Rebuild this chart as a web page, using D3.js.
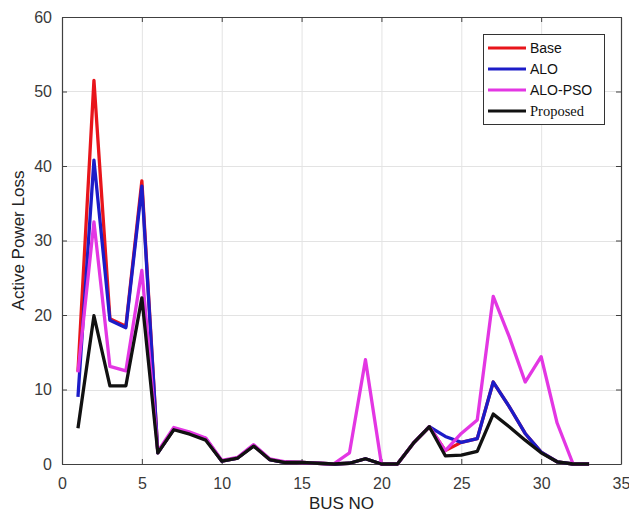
<!DOCTYPE html>
<html>
<head>
<meta charset="utf-8">
<script src="https://cdn.jsdelivr.net/npm/d3@7"></script>
<style>
  html, body { margin: 0; padding: 0; background: #fff; }
  svg { display: block; }
</style>
</head>
<body>
<svg id="chart" width="629" height="519"></svg>
<script>
// Active power loss per bus for each method
const buses = d3.range(1, 34);
const base     = [12.4, 51.5, 19.5, 18.5, 38.0, 1.5, 4.7, 4.1, 3.4, 0.4, 0.8, 2.5, 0.6, 0.2, 0.2, 0.1, 0.0, 0.1, 0.7, 0.0, 0.0, 2.8, 5.0, 1.8, 2.9, 3.4, 11.0, 7.7, 4.1, 1.6, 0.3, 0.0, 0.0];
const alo      = [9.0, 40.8, 19.3, 18.3, 37.3, 1.5, 4.7, 4.1, 3.4, 0.4, 0.8, 2.5, 0.6, 0.2, 0.2, 0.1, 0.0, 0.1, 0.7, 0.0, 0.0, 2.8, 5.0, 3.7, 2.9, 3.4, 11.0, 7.7, 4.1, 1.6, 0.3, 0.0, 0.0];
const aloPso   = [12.3, 32.5, 13.1, 12.5, 26.0, 1.7, 4.9, 4.3, 3.5, 0.5, 0.9, 2.6, 0.7, 0.3, 0.2, 0.1, 0.0, 1.5, 14.0, 0.0, 0.0, 2.8, 5.0, 1.8, 4.1, 5.9, 22.5, 17.1, 11.0, 14.4, 5.5, 0.0, 0.0];
const proposed = [4.8, 19.9, 10.5, 10.5, 22.3, 1.5, 4.6, 4.0, 3.2, 0.4, 0.8, 2.4, 0.6, 0.2, 0.2, 0.1, 0.0, 0.1, 0.7, 0.0, 0.0, 2.8, 5.0, 1.1, 1.2, 1.7, 6.7, 5.0, 3.2, 1.5, 0.3, 0.0, 0.0];

const seriesNames = ["Base", "ALO", "ALO-PSO", "Proposed"];
const seriesData = [base, alo, aloPso, proposed];
const seriesColors = ["#e8151b", "#1c1cc8", "#e336e3", "#111111"];

const xTicks = [0, 5, 10, 15, 20, 25, 30, 35];
const yTicks = [0, 10, 20, 30, 40, 50, 60];

const svg = d3.select("#chart");
const plotLeft = 62, plotRight = 621, plotTop = 17, plotBottom = 464;

const x = d3.scaleLinear().domain([0, 35]).range([plotLeft, plotRight]);
const y = d3.scaleLinear().domain([0, 60]).range([plotBottom, plotTop]);

// grid
const grid = svg.append("g").attr("stroke", "#e3e3e3").attr("stroke-width", 1);
grid.selectAll(".gx").data(xTicks.slice(1, -1)).join("line")
  .attr("x1", d => x(d) + 0.5).attr("x2", d => x(d) + 0.5)
  .attr("y1", plotTop).attr("y2", plotBottom);
grid.selectAll(".gy").data(yTicks.slice(1, -1)).join("line")
  .attr("y1", d => Math.round(y(d)) + 0.5).attr("y2", d => Math.round(y(d)) + 0.5)
  .attr("x1", plotLeft).attr("x2", plotRight);

// axes (ticks point inward, box on all sides)
const axisColor = "#404040";
const tickFont = "Liberation Sans, Arial, sans-serif";

const xAxis = svg.append("g").attr("transform", `translate(0,${plotBottom})`)
  .call(d3.axisBottom(x).tickValues(xTicks).tickSizeInner(-5).tickSizeOuter(0).tickPadding(14));
const xAxisTop = svg.append("g").attr("transform", `translate(0,${plotTop})`)
  .call(d3.axisTop(x).tickValues(xTicks).tickSizeInner(-5).tickSizeOuter(0).tickFormat(""));
const yAxis = svg.append("g").attr("transform", `translate(${plotLeft},0)`)
  .call(d3.axisLeft(y).tickValues(yTicks).tickSizeInner(-5).tickSizeOuter(0).tickPadding(10));
const yAxisRight = svg.append("g").attr("transform", `translate(${plotRight},0)`)
  .call(d3.axisRight(y).tickValues(yTicks).tickSizeInner(-5).tickSizeOuter(0).tickFormat(""));

[xAxis, xAxisTop, yAxis, yAxisRight].forEach(g => {
  g.selectAll("path.domain").attr("stroke", axisColor).attr("stroke-width", 1.2);
  g.selectAll(".tick line").attr("stroke", axisColor);
  g.selectAll(".tick text").attr("fill", "#3a3a3a")
    .style("font-family", tickFont).style("font-size", "16px");
});

// series lines
const line = d3.line().x((d, i) => x(buses[i])).y(d => y(d));
svg.append("g").selectAll("path").data(seriesData).join("path")
  .attr("d", d => line(d))
  .attr("fill", "none")
  .attr("stroke", (d, i) => seriesColors[i])
  .attr("stroke-width", 3.3)
  .attr("stroke-linejoin", "round");

// axis titles
svg.append("text")
  .attr("x", (plotLeft + plotRight) / 2).attr("y", 509)
  .attr("text-anchor", "middle")
  .style("font-family", tickFont).style("font-size", "17px").attr("fill", "#222")
  .text("BUS NO");
svg.append("text")
  .attr("transform", `translate(24,${(plotTop + plotBottom) / 2}) rotate(-90)`)
  .attr("text-anchor", "middle")
  .style("font-family", tickFont).style("font-size", "17px").attr("fill", "#222")
  .text("Active Power Loss");

// legend
const legend = svg.append("g");
legend.append("rect")
  .attr("x", 483.5).attr("y", 34.5).attr("width", 121).attr("height", 90)
  .attr("fill", "#fff").attr("stroke", "#333").attr("stroke-width", 1);
const rows = legend.selectAll("g.row").data(seriesNames).join("g")
  .attr("transform", (d, i) => `translate(0,${48 + i * 21})`);
rows.append("line")
  .attr("x1", 488).attr("x2", 526).attr("y1", 0).attr("y2", 0)
  .attr("stroke", (d, i) => seriesColors[i]).attr("stroke-width", 3);
rows.append("text")
  .attr("x", 530).attr("y", 5)
  .style("font-family", d => d === "Proposed" ? "Liberation Serif, Times New Roman, serif" : tickFont)
  .style("font-size", d => d === "Proposed" ? "14.5px" : "14px")
  .attr("fill", "#111")
  .text(d => d);
</script>
</body>
</html>
